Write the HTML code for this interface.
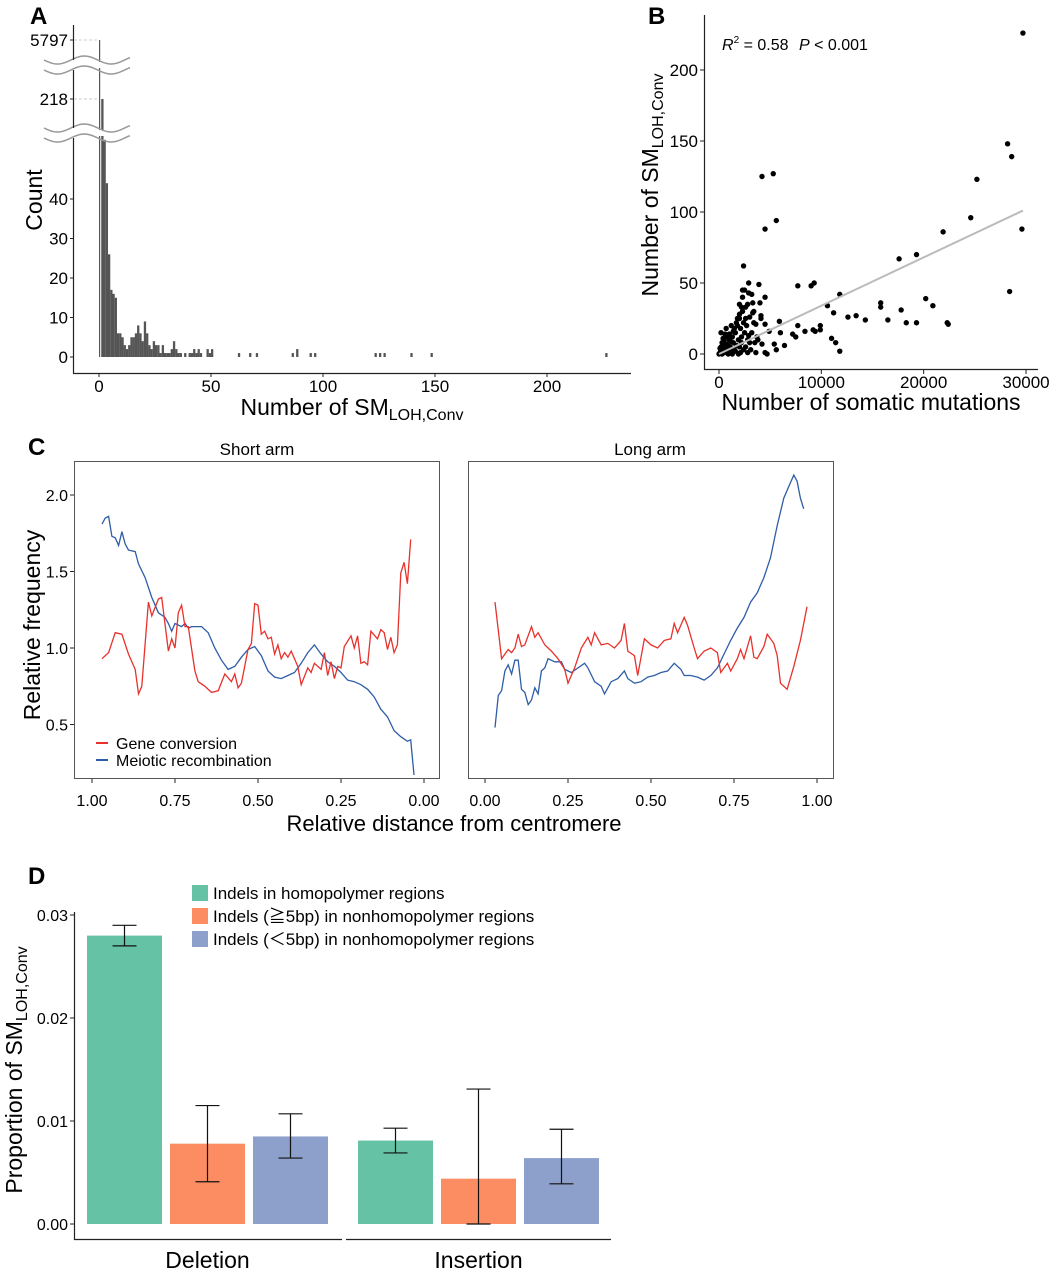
<!DOCTYPE html>
<html><head><meta charset="utf-8"><style>
body{margin:0;background:#fff}
svg{display:block;font-family:"Liberation Sans",sans-serif}
</style></head><body>
<svg id="fig" width="1055" height="1280" viewBox="0 0 1055 1280" xmlns="http://www.w3.org/2000/svg">
<rect width="1055" height="1280" fill="#fff"/>
<g font-weight="bold" font-size="24" fill="#000">
<text x="30" y="24">A</text>
<text x="648" y="24">B</text>
<text x="28" y="455">C</text>
<text x="28" y="884">D</text>
</g>
<g id="pa"></g>
<g id="pb"></g>
<g id="pc"></g>
<g id="pd"></g>
</svg>
<script>
// ---------- Panel A data ----------
const histBins = [0,1,2,3,4,5,6,7,8,9,10,11,12,13,14,15,16,17,18,19,20,21,22,23,24,25,26,27,28,29,30,31,32,33,34,35,36,38,40,41,42,43,44,45,48,49,50,62,67,70,86,88,94,96,123,125,127,139,148,226];
const histCounts = [5797,218,55,44,26,17,16,15,6,6,5,3,2,3,5,5,6,8,6,4,9,6,3,2,4,3,3,1,3,1,1,1,2,4,2,1,1,1,1,1,2,1,2,1,2,1,2,1,1,1,1,2,1,1,1,1,1,1,1,1];
const histXTicks = [0,50,100,150,200];
const histYTicks = [0,10,20,30,40];
const histBreakTicks = [218,5797];
// ---------- Panel B data ----------
const somX = [29700,28200,28600,25200,24600,29600,28400,21900,19300,17600,20200,20900,22300,22400,19300,18300,17800,16500,15800,15800,14300,13400,12600,11800,11800,11400,11000,11200,10600,9900,9900,9400,9200,9000,9300,8400,7700,7700,7500,7200,6400,6000,5900,5600,5400,5600,5300,4200,4500,4700,4500,4900,4500,4500,3900,4000,4100,4100,4200,3800,3600,3400,3300,3200,2900,2900,2800,2400,2300,2500,2200,2300,2000,
0,100,200,300,100,200,400,500,600,300,500,700,800,900,1000,1100,1200,1000,1300,1400,1500,1600,1700,1800,1900,2000,2100,1500,1800,2000,2100,2200,2300,2400,2500,2600,2700,2800,3000,3100,3200,3400,3500,3600,2600,2200,1200,800,600,200,400,700,1300,1600,2400,2800,3000,3300,2000,2600,1900,900,500,1100,1400,2900,3700,1700];
const smY = [226,148,139,123,96,88,44,86,70,67,39,34,22,21,22,22,31,24,33,36,24,27,26,42,2,8,11,29,34,20,17,16,17,48,50,16,48,20,12,14,6,15,23,3,7,94,127,125,88,0,1,16,21,40,49,36,27,25,7,10,21,30,29,42,50,43,35,62,45,45,33,40,25,
0,1,2,0,4,5,3,1,6,8,9,4,2,7,10,5,3,14,12,8,18,15,22,20,10,5,1,3,25,28,18,12,30,22,15,25,20,10,8,3,15,22,8,1,5,8,20,12,14,15,11,18,0,2,3,1,26,36,35,33,0,0,5,9,16,13,12,6];
const fitX = [0,29700];
const fitY = [0,101];
const bXTicks = [0,10000,20000,30000];
const bYTicks = [0,50,100,150,200];
// ---------- Panel C data ----------
const shortPosBlue = [0.97,0.96,0.95,0.94,0.93,0.92,0.91,0.90,0.89,0.87,0.86,0.84,0.82,0.80,0.78,0.77,0.76,0.75,0.73,0.72,0.71,0.70,0.67,0.65,0.63,0.61,0.59,0.57,0.55,0.53,0.51,0.49,0.47,0.45,0.43,0.41,0.39,0.37,0.35,0.33,0.31,0.29,0.27,0.25,0.23,0.21,0.19,0.17,0.15,0.13,0.11,0.09,0.07,0.05,0.04,0.03];
const shortBlue = [1.81,1.85,1.86,1.73,1.72,1.67,1.76,1.68,1.64,1.63,1.55,1.46,1.33,1.23,1.20,1.16,1.11,1.16,1.14,1.16,1.13,1.14,1.14,1.10,1.00,0.92,0.86,0.88,0.94,0.99,1.01,0.95,0.85,0.81,0.80,0.82,0.84,0.90,0.97,1.02,0.96,0.91,0.88,0.84,0.79,0.78,0.76,0.73,0.68,0.60,0.55,0.46,0.42,0.39,0.40,0.17];
const shortPosRed = [0.97,0.95,0.93,0.91,0.89,0.87,0.86,0.85,0.83,0.82,0.80,0.79,0.77,0.76,0.75,0.74,0.73,0.72,0.71,0.69,0.68,0.66,0.64,0.62,0.60,0.58,0.57,0.56,0.55,0.53,0.52,0.51,0.50,0.49,0.48,0.47,0.46,0.45,0.44,0.43,0.42,0.41,0.40,0.38,0.37,0.35,0.34,0.33,0.31,0.30,0.29,0.28,0.27,0.26,0.25,0.24,0.22,0.21,0.20,0.19,0.18,0.17,0.16,0.14,0.13,0.12,0.11,0.10,0.09,0.08,0.07,0.06,0.05,0.04];
const shortRed = [0.93,0.97,1.10,1.09,0.96,0.86,0.70,0.75,1.30,1.21,1.32,1.33,0.98,1.06,1.00,1.23,1.28,1.14,1.14,0.85,0.78,0.75,0.71,0.72,0.83,0.78,0.83,0.74,0.77,0.99,1.03,1.29,1.28,1.09,1.11,1.06,1.07,0.96,1.02,0.93,0.97,0.94,0.98,0.88,0.76,0.87,0.84,0.90,0.86,0.97,0.82,0.91,0.80,0.88,0.87,1.01,1.08,1.00,1.08,0.90,0.91,0.89,1.11,1.06,1.12,1.10,0.99,1.07,0.97,1.02,1.49,1.56,1.42,1.71];
const longPosRed = [0.03,0.05,0.07,0.08,0.09,0.10,0.11,0.12,0.14,0.15,0.16,0.18,0.20,0.22,0.24,0.25,0.27,0.29,0.31,0.32,0.33,0.35,0.37,0.39,0.41,0.42,0.43,0.45,0.46,0.48,0.50,0.52,0.54,0.56,0.57,0.58,0.60,0.61,0.63,0.64,0.66,0.68,0.70,0.71,0.73,0.74,0.76,0.77,0.78,0.80,0.81,0.82,0.84,0.85,0.87,0.88,0.89,0.91,0.93,0.95,0.97];
const longRed = [1.30,0.93,0.99,0.97,1.00,1.09,1.01,1.02,1.14,1.07,1.10,1.02,0.98,0.93,0.86,0.77,0.87,1.00,1.07,1.02,1.10,1.02,1.03,1.00,1.05,1.16,0.98,0.95,0.82,1.06,1.02,1.00,1.05,1.06,1.16,1.10,1.20,1.15,1.00,0.93,0.98,1.00,0.97,0.84,0.90,0.85,0.93,0.99,0.93,1.08,0.94,0.93,1.01,1.09,1.03,0.95,0.77,0.73,0.88,1.05,1.27];
const longPosBlue = [0.03,0.04,0.05,0.06,0.07,0.08,0.09,0.10,0.11,0.12,0.13,0.14,0.15,0.16,0.17,0.18,0.19,0.21,0.23,0.24,0.26,0.28,0.30,0.31,0.33,0.35,0.36,0.38,0.40,0.42,0.43,0.45,0.47,0.49,0.51,0.53,0.55,0.57,0.59,0.60,0.62,0.64,0.66,0.68,0.70,0.72,0.74,0.76,0.78,0.80,0.82,0.84,0.86,0.88,0.90,0.92,0.93,0.94,0.95,0.96];
const longBlue = [0.48,0.69,0.72,0.85,0.89,0.83,0.92,0.92,0.73,0.71,0.63,0.66,0.74,0.70,0.85,0.87,0.93,0.91,0.91,0.86,0.84,0.87,0.90,0.87,0.78,0.75,0.70,0.78,0.80,0.85,0.80,0.77,0.78,0.81,0.82,0.84,0.85,0.90,0.86,0.82,0.82,0.81,0.79,0.82,0.87,0.96,1.05,1.13,1.20,1.30,1.36,1.46,1.59,1.80,1.98,2.08,2.13,2.09,1.98,1.91];
const cXTicks = [0,0.25,0.5,0.75,1];
const cXTickLabels = ["0.00","0.25","0.50","0.75","1.00"];
const cYTicks = [0.5,1.0,1.5,2.0];
// ---------- Panel D data ----------
const dCategories = ["Deletion","Insertion"];
const dGroups = ["Indels in homopolymer regions","Indels (≧5bp) in nonhomopolymer regions","Indels (＜5bp) in nonhomopolymer regions"];
const dValues = [[0.0280,0.0078,0.0085],[0.0081,0.0044,0.0064]];
const dLow = [[0.0270,0.0041,0.0064],[0.0069,0.0000,0.0039]];
const dHigh = [[0.0290,0.0115,0.0107],[0.0093,0.0131,0.0092]];
const dYTicks = [0,0.01,0.02,0.03];
const dYTickLabels = ["0.00","0.01","0.02","0.03"];

const NS="http://www.w3.org/2000/svg";
function mk(tag, attrs, parent){const e=document.createElementNS(NS,tag);for(const k in attrs)e.setAttribute(k,attrs[k]);parent.appendChild(e);return e;}
function txt(s, attrs, parent){const e=mk('text',attrs,parent);e.textContent=s;return e;}

// ===== Panel A =====
(function(){
const g=document.getElementById('pa');
const xA=v=>99+v*2.24;
function yA(v){
  if(v<=55) return 357-v*3.95;
  if(v<=218) return 136-(v-55)/(218-55)*37;
  return 66-(v-218)/(5797-218)*26;
}
histBins.forEach((b,i)=>{
  const c=histCounts[i];
  const w = i===0?1.2:2.3;
  const r=mk('rect',{x:xA(b),y:yA(c),width:w,height:357-yA(c),fill:'#555'},g);
  
  
});
[[60,70],[128,138]].forEach(p=>{
  let d1='',d2='';
  for(let x=44;x<=130;x+=2){const s=Math.sin((x-44)/86*Math.PI*3.2)*4;d1+=(x===44?'M':'L')+x+','+(p[0]+s);d2+=(x===44?'M':'L')+x+','+(p[1]+s);}
  mk('rect',{x:44,y:p[0]+2,width:88,height:p[1]-p[0]-4,fill:'#fff'},g);
  const l1=mk('path',{d:d1,fill:'none',stroke:'#999','stroke-width':1.5},g);
  
  
  const l2=mk('path',{d:d2,fill:'none',stroke:'#999','stroke-width':1.5},g);
  
  
});
mk('line',{x1:73.5,y1:25,x2:73.5,y2:60,stroke:'#222','stroke-width':1.2},g);
mk('line',{x1:73.5,y1:70,x2:73.5,y2:128,stroke:'#222','stroke-width':1.2},g);
mk('line',{x1:73.5,y1:138,x2:73.5,y2:373,stroke:'#222','stroke-width':1.2},g);
mk('line',{x1:73,y1:373.5,x2:631,y2:373.5,stroke:'#222','stroke-width':1.2},g);
histBreakTicks.forEach(v=>{
  const y=yA(v);
  mk('line',{x1:74,y1:y,x2:xA(0),y2:y,stroke:'#ccc','stroke-dasharray':'3,2'},g);
  mk('line',{x1:70,y1:y,x2:73,y2:y,stroke:'#222'},g);
  const t=txt(String(v),{x:68,y:y+6,'text-anchor':'end','font-size':17},g);
  
  
});
histYTicks.forEach(v=>{
  const y=yA(v);
  mk('line',{x1:70,y1:y,x2:73,y2:y,stroke:'#222'},g);
  const t=txt(String(v),{x:68,y:y+6,'text-anchor':'end','font-size':17},g);
  
  
});
histXTicks.forEach(v=>{
  const x=xA(v);
  mk('line',{x1:x,y1:374,x2:x,y2:377,stroke:'#222'},g);
  const t=txt(String(v),{x:x,y:392,'text-anchor':'middle','font-size':17},g);
  
  
});
const yt=txt('Count',{x:0,y:0,transform:'translate(42,200) rotate(-90)','text-anchor':'middle','font-size':23},g);


const xt=mk('text',{x:352,y:415,'text-anchor':'middle','font-size':23},g);
xt.innerHTML='Number of SM<tspan font-size="16" dy="5">LOH,Conv</tspan>';


})();

// ===== Panel B =====
(function(){
const g=document.getElementById('pb');
const xB=v=>719+v*(1026-719)/30000;
const yB=v=>354-v*1.42;
mk('line',{x1:704.5,y1:15,x2:704.5,y2:370,stroke:'#222','stroke-width':1.2},g);
mk('line',{x1:704,y1:369.5,x2:1038,y2:369.5,stroke:'#222','stroke-width':1.2},g);
bYTicks.forEach(v=>{
  const y=yB(v);
  mk('line',{x1:700,y1:y,x2:704,y2:y,stroke:'#222'},g);
  const t=txt(String(v),{x:698,y:y+6,'text-anchor':'end','font-size':17},g);
  
  
});
bXTicks.forEach(v=>{
  const x=xB(v);
  mk('line',{x1:x,y1:370,x2:x,y2:374,stroke:'#222'},g);
  const t=txt(String(v),{x:x,y:388,'text-anchor':'middle','font-size':17},g);
  
  
});
somX.forEach((v,i)=>{
  const c=mk('circle',{cx:xB(v),cy:yB(smY[i]),r:2.7,fill:'#000'},g);
  
  
});
const fl=mk('line',{x1:xB(fitX[0]),y1:yB(fitY[0]),x2:xB(fitX[1]),y2:yB(fitY[1]),stroke:'#bbb','stroke-width':2},g);


const st=mk('text',{x:722,y:50,'font-size':16},g);
st.innerHTML='<tspan font-style="italic">R</tspan><tspan font-size="10" dy="-7">2</tspan><tspan dy="7"> = 0.58   </tspan><tspan font-style="italic" dx="6">P</tspan><tspan> &lt; 0.001</tspan>';


const yt=mk('text',{x:0,y:0,transform:'translate(658,185) rotate(-90)','text-anchor':'middle','font-size':23},g);
yt.innerHTML='Number of SM<tspan font-size="16" dy="5">LOH,Conv</tspan>';


const xt=txt('Number of somatic mutations',{x:871,y:410,'text-anchor':'middle','font-size':23},g);


})();

// ===== Panel C =====
(function(){
const g=document.getElementById('pc');
const yC=v=>648-(v-1)*153;
const xS=d=>424-d*332;
const xL=d=>485+d*332;
[[74,'Short arm',257],[468,'Long arm',650]].forEach(p=>{
  const r=mk('rect',{x:p[0]+0.5,y:461.5,width:365,height:317,fill:'none',stroke:'#555','stroke-width':1},g);
  
  
  const t=txt(p[1],{x:p[2],y:455,'text-anchor':'middle','font-size':17},g);
  
  
});
cYTicks.forEach(v=>{
  const y=yC(v);
  mk('line',{x1:70,y1:y,x2:74,y2:y,stroke:'#222'},g);
  const t=txt(v.toFixed(1),{x:68,y:y+6,'text-anchor':'end','font-size':16},g);
  
  
});
cXTicks.forEach((v,i)=>{
  [xS(v),xL(v)].forEach(x=>{
    mk('line',{x1:x,y1:779,x2:x,y2:783,stroke:'#222'},g);
    const t=txt(cXTickLabels[i],{x:x,y:806,'text-anchor':'middle','font-size':16},g);
    
    
  });
});
function line(xs,ys,fx,col,name){
  const d=xs.map((x,i)=>(i?'L':'M')+fx(x).toFixed(1)+','+yC(ys[i]).toFixed(1)).join(' ');
  const p=mk('path',{d:d,fill:'none',stroke:col,'stroke-width':1.3},g);
  
  
}
line(shortPosBlue,shortBlue,xS,'#2e5da8','short-arm-meiotic-line');
line(shortPosRed,shortRed,xS,'#e8312b','short-arm-gene-conversion-line');
line(longPosBlue,longBlue,xL,'#2e5da8','long-arm-meiotic-line');
line(longPosRed,longRed,xL,'#e8312b','long-arm-gene-conversion-line');
[['Gene conversion','#e8312b',743],['Meiotic recombination','#2e5da8',760]].forEach(p=>{
  mk('line',{x1:96,y1:p[2],x2:108,y2:p[2],stroke:p[1],'stroke-width':2},g);
  const t=txt(p[0],{x:116,y:p[2]+6,'font-size':16},g);
  
  
});
const yt=txt('Relative frequency',{x:0,y:0,transform:'translate(40,625) rotate(-90)','text-anchor':'middle','font-size':23},g);


const xt=txt('Relative distance from centromere',{x:454,y:831,'text-anchor':'middle','font-size':22},g);


})();

// ===== Panel D =====
(function(){
const g=document.getElementById('pd');
const yD=v=>1224-v*10300;
const colors=['#66c2a5','#fc8d62','#8da0cb'];
const catStart=[87,358], barStep=83, barW=75;
mk('line',{x1:74.5,y1:912,x2:74.5,y2:1240,stroke:'#222','stroke-width':1.2},g);
mk('line',{x1:74,y1:1239.5,x2:342,y2:1239.5,stroke:'#222','stroke-width':1.2},g);
mk('line',{x1:346,y1:1239.5,x2:611,y2:1239.5,stroke:'#222','stroke-width':1.2},g);
dYTicks.forEach((v,i)=>{
  const y=yD(v);
  mk('line',{x1:70,y1:y,x2:74,y2:y,stroke:'#222'},g);
  const t=txt(dYTickLabels[i],{x:68,y:y+6,'text-anchor':'end','font-size':16},g);
  
  
});
dCategories.forEach((c,ci)=>{
  dValues[ci].forEach((v,gi)=>{
    const x=catStart[ci]+gi*barStep;
    const r=mk('rect',{x:x,y:yD(v),width:barW,height:yD(0)-yD(v),fill:colors[gi]},g);
    
    
    const cx=x+barW/2, lo=yD(dLow[ci][gi]), hi=yD(dHigh[ci][gi]);
    const e=mk('path',{d:`M${cx-12},${hi}H${cx+12}M${cx},${hi}V${lo}M${cx-12},${lo}H${cx+12}`,stroke:'#111','stroke-width':1.2,fill:'none'},g);
    
    
  });
  const t=txt(c,{x:catStart[ci]+barStep+barW/2,y:1268,'text-anchor':'middle','font-size':23},g);
  
  
});
dGroups.forEach((s,i)=>{
  const y=893+i*23;
  const r=mk('rect',{x:192,y:y-8,width:16,height:16,fill:colors[i]},g);
  
  
  const t=txt(s,{x:213,y:y+6,'font-size':17,'font-family':'"Liberation Sans","Noto Sans CJK JP",sans-serif'},g);
  
  
});
const yt=mk('text',{x:0,y:0,transform:'translate(22,1070) rotate(-90)','text-anchor':'middle','font-size':23},g);
yt.innerHTML='Proportion of SM<tspan font-size="16" dy="5">LOH,Conv</tspan>';


})();
</script>
</body></html>
